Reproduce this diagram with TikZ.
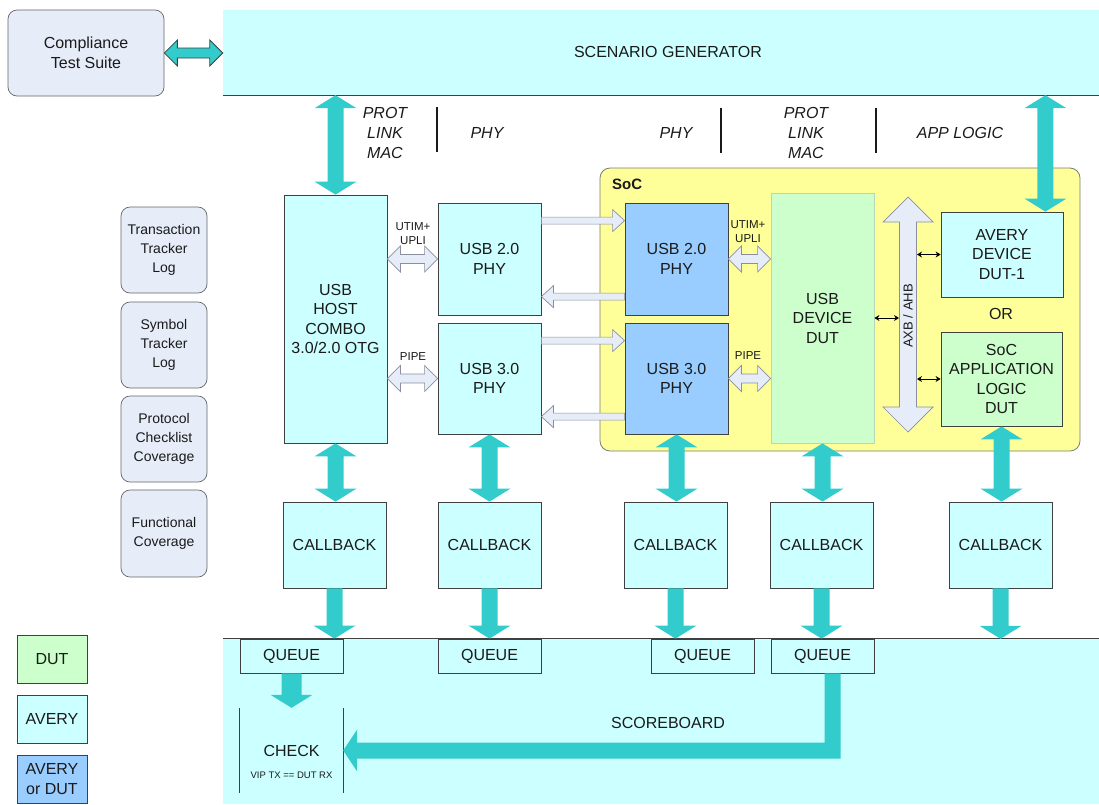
\documentclass[tikz,border=0pt]{standalone}
\usepackage{fontspec}
\setmainfont{Liberation Sans}
\usetikzlibrary{calc,arrows.meta}
\definecolor{cyanbg}{HTML}{CCFFFF}
\definecolor{dutg}{HTML}{CCFFCC}
\definecolor{bothb}{HTML}{99CCFF}
\definecolor{socy}{HTML}{FFFF99}
\definecolor{lav}{HTML}{E6ECF8}
\definecolor{tealA}{HTML}{33CCCC}
\definecolor{edge}{HTML}{404040}
\definecolor{txt}{HTML}{1A1A1A}
\definecolor{hollowedge}{HTML}{8A8FA0}
\newcommand\fmain{\fontsize{16}{19.5}\selectfont}
\newcommand\fside{\fontsize{14}{19}\selectfont}
\newcommand\fsmall{\fontsize{11.5}{14}\selectfont}
\newcommand\ftiny{\fontsize{9.5}{11}\selectfont}
% box node: [style]{name}{cx}{cy}{w}{h}{text}
\newcommand\BX[7][]{\node[#1, minimum width=#5pt, minimum height=#6pt] (#2) at (#3,#4) {#7};}
% horizontal double block arrow
\newcommand\HDarrow[6][]{\draw[#1] let \p1=(#2),\p2=(#3) in
 (\x1,\y1) -- (\x1+#6,\y1+#5) -- (\x1+#6,\y1+#4) -- (\x2-#6,\y1+#4) -- (\x2-#6,\y1+#5) -- (\x2,\y1)
 -- (\x2-#6,\y1-#5) -- (\x2-#6,\y1-#4) -- (\x1+#6,\y1-#4) -- (\x1+#6,\y1-#5) -- cycle;}
% horizontal single block arrow, tip at #3
\newcommand\HSarrow[6][]{\draw[#1] let \p1=(#2),\p2=(#3),\n1={(\x2>\x1)*2-1} in
 (\x1,\y1+#4) -- ({\x2-(\n1)*(#6)},\y1+#4) -- ({\x2-(\n1)*(#6)},\y1+#5) -- (\x2,\y1)
 -- ({\x2-(\n1)*(#6)},\y1-#5) -- ({\x2-(\n1)*(#6)},\y1-#4) -- (\x1,\y1-#4) -- cycle;}
% vertical double block arrow, #2 top, #3 bottom
\newcommand\VDarrow[6][]{\draw[#1] let \p1=(#2),\p2=(#3) in
 (\x1,\y1) -- (\x1+#5,\y1-#6) -- (\x1+#4,\y1-#6) -- (\x1+#4,\y2+#6) -- (\x1+#5,\y2+#6) -- (\x1,\y2)
 -- (\x1-#5,\y2+#6) -- (\x1-#4,\y2+#6) -- (\x1-#4,\y1-#6) -- (\x1-#5,\y1-#6) -- cycle;}
% vertical single down block arrow
\newcommand\VSarrow[6][]{\draw[#1] let \p1=(#2),\p2=(#3) in
 (\x1-#4,\y1) -- (\x1+#4,\y1) -- (\x1+#4,\y2+#6) -- (\x1+#5,\y2+#6) -- (\x1,\y2)
 -- (\x1-#5,\y2+#6) -- (\x1-#4,\y2+#6) -- cycle;}
\tikzset{
 base/.style={inner sep=0pt, align=center, text=txt, font=\fmain},
 avery/.style={base, fill=cyanbg, draw=edge, line width=0.8pt},
 dutbox/.style={base, fill=dutg, draw=edge, line width=0.8pt},
 bothbox/.style={base, fill=bothb, draw=edge, line width=0.8pt},
 sidebox/.style={base, font=\fside, fill=lav, draw=edge!80, line width=0.7pt, rounded corners=9pt},
 lbl/.style={inner sep=0pt, align=center, text=txt, font=\fmain},
 ital/.style={lbl, font=\fmain\itshape},
 small/.style={lbl, font=\fsmall},
 tealarrow/.style={fill=tealA, draw=none},
 tealout/.style={fill=tealA, draw=edge, line width=0.8pt},
 hollow/.style={fill=lav, draw=hollowedge, line width=0.7pt},
 sep/.style={line width=1.6pt, draw=txt},
 busarr/.style={line width=0.8pt, black, {Stealth[length=5pt,width=6pt]}-{Stealth[length=5pt,width=6pt]}}
}
\begin{document}
\begin{tikzpicture}[x=1pt,y=-1pt]
\useasboundingbox (0,0) rectangle (1099,804);
% background regions
\BX[base, fill=cyanbg]{sg}{661}{52.5}{876}{85}{}
\draw[edge, line width=1pt] (sg.south west) -- (sg.south east);
\node[lbl] (sgl) at (668,52) {SCENARIO GENERATOR};
\BX[base, fill=cyanbg]{sb}{661}{721.5}{876}{165}{}
\draw[edge, line width=1pt] (sb.north west) -- (sb.north east);
\node[lbl] (sbl) at (668,723) {SCOREBOARD};
\BX[base, fill=socy, draw=edge!70, line width=0.8pt, rounded corners=10pt]{soc}{840}{309.5}{480}{283}{}
\node[lbl, font=\fontsize{15}{18}\selectfont\bfseries, anchor=base west] (socl) at (612,189) {SoC};
% compliance
\BX[sidebox, font=\fmain]{cts}{86}{53}{156}{86}{Compliance\\Test Suite}
% layer labels
\node[ital, font=\fontsize{16}{20}\selectfont\itshape] (plm1) at (385,133) {PROT\\LINK\\MAC};
\node[ital] (phy1) at (487,133) {PHY};
\node[ital] (phy2) at (676,133) {PHY};
\node[ital, font=\fontsize{16}{20}\selectfont\itshape] (plm2) at (806,133) {PROT\\LINK\\MAC};
\node[ital] (app1) at (960,133) {APP LOGIC};
\draw[sep] (437,107) -- (437,152);
\draw[sep] (721,108) -- (721,153);
\draw[sep] (876,108) -- (876,153);
% main blocks
\BX[avery]{host}{335.5}{319}{103}{248}{USB\\HOST\\COMBO\\3.0/2.0 OTG}
\BX[avery]{aphy2}{489.5}{259}{103}{112}{USB 2.0\\PHY}
\BX[avery]{aphy3}{489.5}{378.5}{103}{111}{USB 3.0\\PHY}
\BX[bothbox]{sphy2}{676.5}{259}{103}{112}{USB 2.0\\PHY}
\BX[bothbox]{sphy3}{676.5}{378.5}{103}{111}{USB 3.0\\PHY}
\BX[dutbox, draw=dutg!70!gray]{dut}{822.5}{318}{103}{250}{USB\\DEVICE\\DUT}
\BX[avery]{avd}{1002}{254.5}{122}{85}{AVERY\\DEVICE\\DUT-1}
\BX[dutbox]{app}{1001.5}{379}{121}{94}{SoC\\APPLICATION\\LOGIC\\DUT}
\node[lbl] (orl) at (1001,314) {OR};
% callbacks
\BX[avery]{cb1}{334.5}{545}{103}{86}{CALLBACK}
\BX[avery]{cb2}{489.5}{545}{103}{86}{CALLBACK}
\BX[avery]{cb3}{675.5}{545}{103}{86}{CALLBACK}
\BX[avery]{cb4}{821.5}{545}{103}{86}{CALLBACK}
\BX[avery]{cb5}{1000.5}{545}{103}{86}{CALLBACK}
% queues
\BX[avery]{q1}{291.5}{656}{103}{34}{QUEUE}
\BX[avery]{q2}{489.5}{656}{103}{34}{QUEUE}
\BX[avery]{q3}{702.5}{656}{103}{34}{QUEUE}
\BX[avery]{q4}{822.5}{656}{103}{34}{QUEUE}
% check
\BX[base]{check}{291.5}{750.5}{103}{85}{CHECK}
\draw[edge, line width=0.8pt] (check.north west) -- (check.south west);
\draw[edge, line width=0.8pt] (check.north east) -- (check.south east);
\node[lbl, font=\ftiny] (vip) at (291.5,775) {VIP TX == DUT RX};
% side boxes
\BX[sidebox]{trk}{164}{250}{86}{86}{Transaction\\Tracker\\Log}
\BX[sidebox]{sym}{164}{345}{86}{86}{Symbol\\Tracker\\Log}
\BX[sidebox]{pcc}{164}{439}{86}{86}{Protocol\\Checklist\\Coverage}
\BX[sidebox]{fcv}{164}{533.5}{86}{87}{Functional\\Coverage}
% legend
\BX[dutbox]{ldut}{52}{659}{70}{48}{DUT}
\BX[avery]{lavy}{52}{719}{70}{48}{AVERY}
\BX[bothbox]{lboth}{52}{779}{70}{48}{AVERY\\or DUT}
% small interface labels
\node[small] (ut1) at (413,234) {UTIM+\\UPLI};
\node[small] (pp1) at (413,357) {PIPE};
\node[small] (ut2) at (748,232) {UTIM+\\UPLI};
\node[small] (pp2) at (748,356) {PIPE};
% compliance arrow
\HDarrow[tealout]{cts.east}{cts.east -| sg.west}{5pt}{13pt}{13pt}
% hollow interface arrows
\HDarrow[hollow]{aphy2.center -| host.east}{aphy2.west}{4.5pt}{13pt}{13pt}
\HDarrow[hollow]{aphy3.center -| host.east}{aphy3.west}{4.5pt}{13pt}{13pt}
\HDarrow[hollow]{sphy2.east}{sphy2.east -| dut.west}{4.5pt}{13pt}{13pt}
\HDarrow[hollow]{sphy3.east}{sphy3.east -| dut.west}{4.5pt}{13pt}{13pt}
\coordinate (a2o) at ($(aphy2.north east)+(0,18)$);
\coordinate (s2o) at ($(sphy2.north west)+(0,94)$);
\coordinate (a3o) at ($(aphy3.north east)+(0,18)$);
\coordinate (s3o) at ($(sphy3.north west)+(0,94)$);
\HSarrow[hollow]{a2o}{a2o -| sphy2.west}{3.5pt}{11pt}{12pt}
\HSarrow[hollow]{s2o}{s2o -| aphy2.east}{3.5pt}{11pt}{12pt}
\HSarrow[hollow]{a3o}{a3o -| sphy3.west}{3.5pt}{11pt}{12pt}
\HSarrow[hollow]{s3o}{s3o -| aphy3.east}{3.5pt}{11pt}{12pt}
% AXB / AHB bus
\coordinate (bt) at (908,197);
\coordinate (bb) at (908,432);
\VDarrow[hollow]{bt}{bb}{8.5pt}{25pt}{25pt}
\node[small, font=\fontsize{13}{15}\selectfont, rotate=90] (busl) at (908,316) {AXB / AHB};
\draw[busarr] (dut.east) -- ($(dut.east -| bt)+(-9,0)$);
\draw[busarr] ($(avd.west -| bt)+(9,0)$) -- (avd.west);
\draw[busarr] ($(app.west -| bt)+(9,0)$) -- (app.west);
% teal vertical arrows
\coordinate (avdin) at ($(avd.north east)+(-18,0)$);
\VDarrow[tealarrow]{host.north |- sg.south}{host.north}{8pt}{21pt}{13pt}
\VDarrow[tealarrow]{avdin |- sg.south}{avdin}{8pt}{21pt}{13pt}
\VDarrow[tealarrow]{host.south}{cb1.north}{8pt}{21pt}{13pt}
\VDarrow[tealarrow]{aphy3.south}{cb2.north}{8pt}{21pt}{13pt}
\VDarrow[tealarrow]{sphy3.south}{cb3.north}{8pt}{21pt}{13pt}
\VDarrow[tealarrow]{dut.south}{cb4.north}{8pt}{21pt}{13pt}
\VDarrow[tealarrow]{app.south}{cb5.north}{8pt}{21pt}{13pt}
\VSarrow[tealarrow]{cb1.south}{cb1.south |- q1.north}{8pt}{21pt}{13pt}
\VSarrow[tealarrow]{cb2.south}{q2.north}{8pt}{21pt}{13pt}
\VSarrow[tealarrow]{cb3.south}{cb3.south |- q3.north}{8pt}{21pt}{13pt}
\VSarrow[tealarrow]{cb4.south}{cb4.south |- q4.north}{8pt}{21pt}{13pt}
\VSarrow[tealarrow]{cb5.south}{cb5.south |- sb.north}{8pt}{21pt}{13pt}
\VSarrow[tealarrow]{q1.south}{check.north}{10pt}{21pt}{13pt}
% L-shaped arrow from queue 4 to check
\coordinate (q4o) at ($(q4.south)+(10,0)$);
\draw[tealarrow] let \p1=(q4o), \p2=(check.east) in
 (\x1-8pt,\y1) -- (\x1+8pt,\y1) -- (\x1+8pt,\y2-8pt) -- (\x2+14pt,\y2-8pt) -- (\x2+14pt,\y2-21pt)
 -- (\x2,\y2) -- (\x2+14pt,\y2+21pt) -- (\x2+14pt,\y2+8pt) -- (\x1-8pt,\y2+8pt) -- cycle;
\end{tikzpicture}
\end{document}
